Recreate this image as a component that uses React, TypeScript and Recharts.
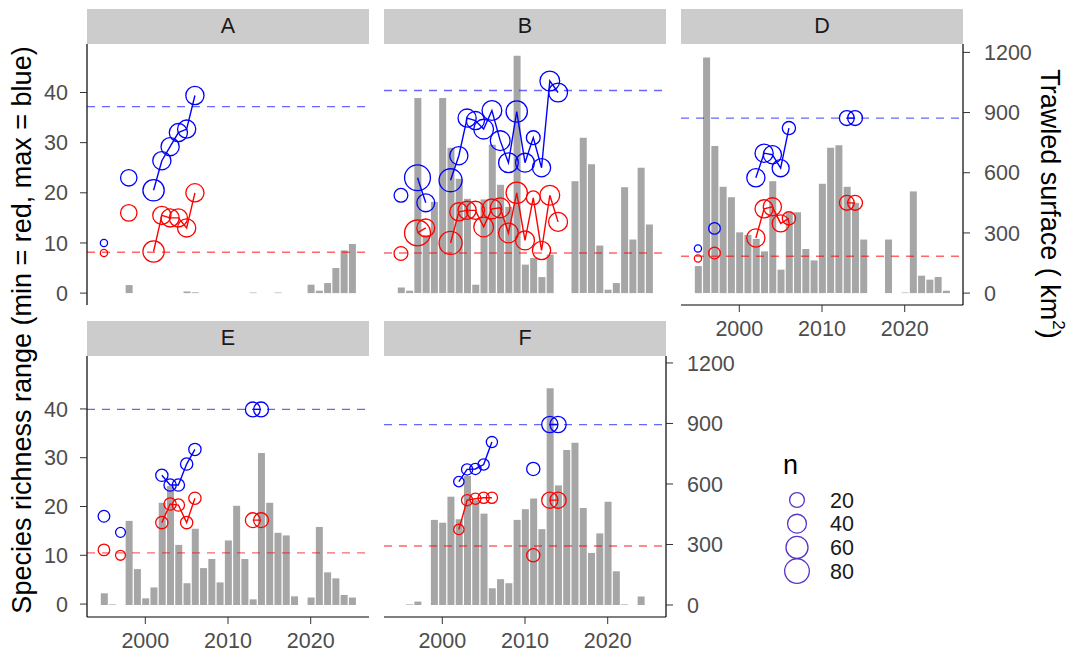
import React from 'react'
import { ComposedChart, Bar, Line, XAxis, YAxis, ReferenceLine } from 'recharts'

// one entry per year, 1995..2025
const years = [
  1995, 1996, 1997, 1998, 1999, 2000, 2001, 2002, 2003, 2004, 2005, 2006, 2007, 2008, 2009, 2010,
  2011, 2012, 2013, 2014, 2015, 2016, 2017, 2018, 2019, 2020, 2021, 2022, 2023, 2024, 2025
]
const _ = null

const surfaceA = [_, _, _, 40, _, _, _, _, _, _, 8, 4, _, _, _, _, _, _, 3, _, _, 3, _, _, _, 42, 12, 50, 125, 213, 245]
const minA = [8, _, _, 16, _, _, 8.3, 15.5, 15, 15, 13, 20, _, _, _, _, _, _, _, _, _, _, _, _, _, _, _, _, _, _, _]
const maxA = [10, _, _, 23, _, _, 20.5, 26.4, 29.2, 32, 32.7, 39.4, _, _, _, _, _, _, _, _, _, _, _, _, _, _, _, _, _, _, _]
const nA = [1, _, _, 27, _, _, 55, 36, 36, 36, 36, 36, _, _, _, _, _, _, _, _, _, _, _, _, _, _, _, _, _, _, _]

const surfaceB = [28, 12, 972, 290, 455, 972, 725, 570, 470, 42, 467, 740, 540, 430, 1183, 142, 175, 80, 192, _, _, 558, 775, 642, 237, 17, 50, 528, 267, 625, 342]
const minB = [7.9, _, 12, 13, _, _, 10, 16.2, 16.5, 16.5, 13.2, 16.8, 17, 12, 20, 10.5, 19, 8.5, 19.5, 14.2, _, _, _, _, _, _, _, _, _, _, _]
const maxB = [19.5, _, 23, 18, _, _, 22.5, 27.4, 34.9, 34.4, 32.7, 36.4, 30.4, 26, 36.2, 26, 31, 25, 42.3, 40, _, _, _, _, _, _, _, _, _, _, _]
const nB = [16, _, 90, 34, _, _, 67, 36, 36, 36, 45, 45, 45, 45, 55, 40, 16, 36, 45, 40, _, _, _, _, _, _, _, _, _, _, _]

const surfaceD = [135, 1175, 733, 530, 478, 303, 290, 270, 208, 558, 117, 400, 403, 220, 163, 545, 725, 737, 530, 450, 267, _, _, 267, _, 3, 507, 87, 67, 80, 12]
const minD = [6.9, _, 8, _, _, _, _, 11, 16.8, 17.2, 13.9, 14.9, _, _, _, _, _, _, 18, 18, _, _, _, _, _, _, _, _, _, _, _]
const maxD = [8.9, _, 12.9, _, _, _, _, 23, 27.9, 27.6, 24.9, 32.9, _, _, _, _, _, _, 34.9, 34.9, _, _, _, _, _, _, _, _, _, _, _]
const nD = [1, _, 9, _, _, _, _, 36, 36, 36, 30, 14, _, _, _, _, _, _, 20, 20, _, _, _, _, _, _, _, _, _, _, _]

const surfaceE = [58, 3, _, 417, 178, 33, 87, 507, 590, 298, 108, 378, 183, 228, 112, 320, 492, 228, 28, 753, 507, 358, 345, 43, _, 37, 387, 162, 132, 50, 37]
const minE = [11.1, _, 10, _, _, _, _, 16.7, 20.5, 20.3, 16.7, 21.7, _, _, _, _, _, _, 17.2, 17.2, _, _, _, _, _, _, _, _, _, _, _]
const maxE = [18, _, 14.7, _, _, _, _, 26.4, 24.4, 24.4, 28.7, 31.7, _, _, _, _, _, _, 39.9, 39.9, _, _, _, _, _, _, _, _, _, _, _]
const nE = [9, _, 5, _, _, _, _, 11, 11, 11, 11, 11, _, _, _, _, _, _, 20, 20, _, _, _, _, _, _, _, _, _, _, _]

const surfaceF = [_, 3, 17, _, 422, 408, 537, 425, 640, 520, 453, 83, 128, 108, 422, 475, 528, 376, 1075, 593, 768, 804, 481, 258, 355, 512, 167, 3, _, 42, _]
const minF = [_, _, _, _, _, _, _, 15.3, 21.3, 21.6, 21.8, 21.8, _, _, _, _, 10, _, 21.3, 21.3, _, _, _, _, _, _, _, _, _, _, _]
const maxF = [_, _, _, _, _, _, _, 25.1, 27.6, 27.7, 28.6, 33.2, _, _, _, _, 27.7, _, 36.8, 36.8, _, _, _, _, _, _, _, _, _, _, _]
const nF = [_, _, _, _, _, _, _, 6, 8, 8, 8, 8, _, _, _, _, 14, _, 26, 26, _, _, _, _, _, _, _, _, _, _, _]

// dashed reference levels (min, max) per panel
const refLevels: Record<string, [number, number]> = {
  A: [8.15, 37.2],
  B: [8.0, 40.4],
  D: [7.35, 34.9],
  E: [10.5, 39.9],
  F: [11.9, 36.8]
}

const xTicks = [2000, 2010, 2020]
const leftTicks = [0, 10, 20, 30, 40]
const rightTicks = [0, 300, 600, 900, 1200]
const legendSizes = [20, 40, 60, 80]

const FONT = '"Liberation Sans", Arial, Helvetica, sans-serif'
const PW = 282
const PH = 261
const STRIP = 35
const L = 70
const R = 80
const B = 45
const T = 20 // room above the panel so top tick labels are not clipped

const topLeft = [-2.37, 49.67]
const topRight = [-59.25, 1241.75]
const botLeft = [-2.65, 50.85]
const botRight = [-59.5, 1234.5]

const radius = (n: number) => 2.5 + 1.1 * Math.sqrt(n)

const dotFor = (color: string) => (props: any) => {
  const { cx, cy, payload, index } = props
  if (!Number.isFinite(cx) || !Number.isFinite(cy) || payload?.n == null) return <g key={`d-${index}`} />
  return <circle key={`d-${index}`} cx={cx} cy={cy} r={radius(payload.n)} fill="none" stroke={color} strokeWidth={1.3} />
}

const tickStyle = { fill: '#4d4d4d', fontSize: 21.5, fontFamily: FONT }

interface PanelProps {
  label: string
  surface: (number | null)[]
  min: (number | null)[]
  max: (number | null)[]
  n: (number | null)[]
  x: number
  y: number
  leftDomain: number[]
  rightDomain: number[]
  left?: boolean
  right?: boolean
  bottom?: boolean
}

function Panel({ label, surface, min, max, n, x, y, leftDomain, rightDomain, left, right, bottom }: PanelProps) {
  const data = years.map((yr, i) => ({ year: yr, surface: surface[i], min: min[i], max: max[i], n: n[i] }))
  const l = left ? L : 0
  const r = right ? R : 0
  const b = bottom ? B : 0
  const [refMin, refMax] = refLevels[label]
  return (
    <>
      <div
        style={{
          position: 'absolute', left: x, top: y - STRIP, width: PW, height: STRIP, background: '#cccccc',
          display: 'flex', alignItems: 'center', justifyContent: 'center',
          fontFamily: FONT, fontSize: 21.5, color: '#1a1a1a'
        }}
      >
        {label}
      </div>
      <div style={{ position: 'absolute', left: x - l, top: y - T }}>
        <ComposedChart width={l + PW + r} height={T + PH + b} data={data} margin={{ top: T, right: 0, bottom: 0, left: 0 }}>
          <XAxis
            dataKey="year"
            type="number"
            domain={[1992.95, 2027.05]}
            ticks={xTicks}
            interval={0}
            allowDataOverflow
            hide={!bottom}
            height={B}
            tickSize={7}
            tickMargin={9}
            axisLine={{ stroke: '#000', strokeWidth: 1.2 }}
            tickLine={{ stroke: '#333' }}
            tick={tickStyle}
          />
          <YAxis
            yAxisId="left"
            type="number"
            domain={leftDomain}
            ticks={leftTicks}
            interval={0}
            allowDataOverflow
            hide={!left}
            width={L}
            tickSize={7}
            tickMargin={12}
            axisLine={{ stroke: '#000', strokeWidth: 1.2 }}
            tickLine={{ stroke: '#333' }}
            tick={tickStyle}
          />
          <YAxis
            yAxisId="right"
            orientation="right"
            type="number"
            domain={rightDomain}
            ticks={rightTicks}
            interval={0}
            allowDataOverflow
            hide={!right}
            width={R}
            tickSize={7}
            tickMargin={14}
            axisLine={{ stroke: '#000', strokeWidth: 1.2 }}
            tickLine={{ stroke: '#333' }}
            tick={tickStyle}
          />
          <Bar dataKey="surface" yAxisId="right" fill="#a6a6a6" barSize={7} isAnimationActive={false} />
          <ReferenceLine yAxisId="left" y={refMax} stroke="#0000ff" strokeOpacity={0.6} strokeWidth={1.3} strokeDasharray="8 7" />
          <ReferenceLine yAxisId="left" y={refMin} stroke="#ff0000" strokeOpacity={0.6} strokeWidth={1.3} strokeDasharray="8 7" />
          <Line
            dataKey="max"
            yAxisId="left"
            stroke="#0000ff"
            strokeWidth={1.4}
            dot={dotFor('#0000ff')}
            activeDot={false}
            connectNulls={false}
            isAnimationActive={false}
          />
          <Line
            dataKey="min"
            yAxisId="left"
            stroke="#ff0000"
            strokeWidth={1.4}
            dot={dotFor('#ff0000')}
            activeDot={false}
            connectNulls={false}
            isAnimationActive={false}
          />
        </ComposedChart>
      </div>
    </>
  )
}

export default function App() {
  const colX = [87, 384, 681]
  const rowY = [44, 356]
  return (
    <div style={{ position: 'absolute', left: 0, top: 0, width: 1075, height: 655, background: '#fff', fontFamily: FONT }}>
      <Panel label="A" surface={surfaceA} min={minA} max={maxA} n={nA} x={colX[0]} y={rowY[0]} leftDomain={topLeft} rightDomain={topRight} left />
      <Panel label="B" surface={surfaceB} min={minB} max={maxB} n={nB} x={colX[1]} y={rowY[0]} leftDomain={topLeft} rightDomain={topRight} />
      <Panel label="D" surface={surfaceD} min={minD} max={maxD} n={nD} x={colX[2]} y={rowY[0]} leftDomain={topLeft} rightDomain={topRight} right bottom />
      <Panel label="E" surface={surfaceE} min={minE} max={maxE} n={nE} x={colX[0]} y={rowY[1]} leftDomain={botLeft} rightDomain={botRight} left bottom />
      <Panel label="F" surface={surfaceF} min={minF} max={maxF} n={nF} x={colX[1]} y={rowY[1]} leftDomain={botLeft} rightDomain={botRight} right bottom />
      <svg width={1075} height={655} style={{ position: 'absolute', left: 0, top: 0, pointerEvents: 'none' }}>
        <text x={22} y={330} transform="rotate(-90 22 330)" textAnchor="middle" dominantBaseline="central" fontSize={27} fontFamily={FONT} fill="#000">
          Species richness range (min = red, max = blue)
        </text>
        <text x={1050} y={204} transform="rotate(90 1050 204)" textAnchor="middle" dominantBaseline="central" fontSize={27} fontFamily={FONT} fill="#000">
          Trawled surface ( km<tspan dy={-9} fontSize={17}>2</tspan><tspan dy={9}>)</tspan>
        </text>
        <text x={783} y={474} fontSize={27} fontFamily={FONT} fill="#000">n</text>
        {legendSizes.map((s, i) => (
          <g key={s}>
            <circle cx={797} cy={500 + i * 23.7} r={radius(s)} fill="none" stroke="#5b34c9" strokeWidth={1.3} />
            <text x={830} y={500 + i * 23.7 + 7.5} fontSize={21.5} fontFamily={FONT} fill="#1a1a1a">{s}</text>
          </g>
        ))}
      </svg>
    </div>
  )
}
